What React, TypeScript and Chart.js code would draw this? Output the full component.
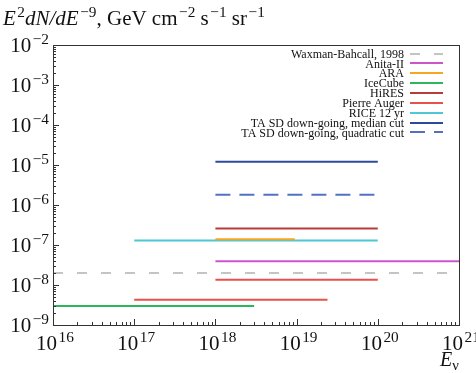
import React, { useEffect, useRef } from "react";
import { Chart, registerables } from "chart.js";

Chart.register(...registerables);

// ---- data ----
const seriesNames = [
  "Waxman-Bahcall, 1998",
  "Anita-II",
  "ARA",
  "IceCube",
  "HiRES",
  "Pierre Auger",
  "RICE 12 yr",
  "TA SD down-going, median cut",
  "TA SD down-going, quadratic cut",
];
const seriesColors = ["#c4c4c4", "#cc55cc", "#f5a623", "#2cb85a", "#b83a3a", "#e8504a", "#4ec8d4", "#2c4a9a", "#5272c0"];
const seriesDash: number[][] = [[10, 14], [], [], [], [], [], [], [], [15, 9]];

const waxmanX = [1e16, 1e21];
const waxmanY = [2e-8, 2e-8];
const anitaX = [1e18, 1e21];
const anitaY = [3.9e-8, 3.9e-8];
const araX = [1e18, 9.5e18];
const araY = [1.4e-7, 1.4e-7];
const icecubeX = [1e16, 3e18];
const icecubeY = [3e-9, 3e-9];
const hiresX = [1e18, 1e20];
const hiresY = [2.6e-7, 2.6e-7];
const augerX = [1e18, 1e20];
const augerY = [1.35e-8, 1.35e-8];
const auger2X = [1e17, 2.4e19];
const auger2Y = [4.3e-9, 4.3e-9];
const riceX = [1e17, 1e20];
const riceY = [1.3e-7, 1.3e-7];
const taMedianX = [1e18, 1e20];
const taMedianY = [1.2e-5, 1.2e-5];
const taQuadX = [1e18, 1e20];
const taQuadY = [1.8e-6, 1.8e-6];

const xTickExps = [16, 17, 18, 19, 20, 21];
const yTickExps = [-9, -8, -7, -6, -5, -4, -3, -2];

const FONT = '"Liberation Serif", "DejaVu Serif", serif';

type Run = { t: string; it?: boolean; sup?: boolean; sub?: boolean };

const SUPR = 0.73;
const SUPGAP = 1.5;

function runsWidth(ctx: CanvasRenderingContext2D, runs: Run[], size: number) {
  let w = 0;
  for (const r of runs) {
    const s = r.sup || r.sub ? size * SUPR : size;
    ctx.font = `${r.it ? "italic " : ""}${s}px ${FONT}`;
    w += ctx.measureText(r.t).width + (r.sup ? SUPGAP : 0);
  }
  return w;
}

function drawRuns(ctx: CanvasRenderingContext2D, x: number, y: number, runs: Run[], size: number) {
  let cx = x;
  ctx.textAlign = "left";
  ctx.textBaseline = "alphabetic";
  for (const r of runs) {
    const s = r.sup || r.sub ? size * SUPR : size;
    ctx.font = `${r.it ? "italic " : ""}${s}px ${FONT}`;
    const dy = r.sup ? -size * 0.38 : r.sub ? size * 0.22 : 0;
    if (r.sup) cx += SUPGAP;
    ctx.fillText(r.t, cx, y + dy);
    cx += ctx.measureText(r.t).width;
  }
  return cx;
}

const M = "\u2212";

const decorPlugin = {
  id: "decor",
  afterDatasetsDraw(chart: any) {
    const ctx: CanvasRenderingContext2D = chart.ctx;
    const { left, right, top, bottom } = chart.chartArea;
    const xs = chart.scales.x;
    const ys = chart.scales.y;
    ctx.save();
    ctx.strokeStyle = "#333";
    ctx.lineWidth = 1;
    ctx.strokeRect(left + 0.5, top + 0.5, right - left, bottom - top);

    // ticks
    ctx.beginPath();
    for (let e = xTickExps[0]; e <= xTickExps[xTickExps.length - 1]; e++) {
      for (let m = 1; m <= 9; m++) {
        const v = m * Math.pow(10, e);
        if (v > Math.pow(10, xTickExps[xTickExps.length - 1])) break;
        const px = Math.round(xs.getPixelForValue(v)) + 0.5;
        const len = m === 1 ? 6 : 3;
        ctx.moveTo(px, bottom);
        ctx.lineTo(px, bottom - len);
      }
    }
    for (let e = yTickExps[0]; e <= yTickExps[yTickExps.length - 1]; e++) {
      for (let m = 1; m <= 9; m++) {
        const v = m * Math.pow(10, e);
        if (v > Math.pow(10, yTickExps[yTickExps.length - 1]) * 1.0001) break;
        const py = Math.round(ys.getPixelForValue(v)) + 0.5;
        const len = m === 1 ? 6 : 3;
        ctx.moveTo(left, py);
        ctx.lineTo(left + len, py);
      }
    }
    ctx.stroke();

    ctx.fillStyle = "#111";
    const LS = 21;
    // x labels
    for (const e of xTickExps) {
      const runs: Run[] = [{ t: "10" }, { t: String(e), sup: true }];
      const w = runsWidth(ctx, runs, LS);
      const px = xs.getPixelForValue(Math.pow(10, e));
      drawRuns(ctx, px - w / 2 + 2, bottom + 25, runs, LS);
    }
    // y labels
    for (const e of yTickExps) {
      const runs: Run[] = [{ t: "10" }, { t: M + String(-e), sup: true }];
      const w = runsWidth(ctx, runs, LS);
      const py = ys.getPixelForValue(Math.pow(10, e));
      drawRuns(ctx, left - 4 - w, py + 7, runs, LS);
    }
    // axis titles
    drawRuns(ctx, 3, 25, [
      { t: "E", it: true }, { t: "2", sup: true }, { t: "dN/dE", it: true }, { t: M + "9", sup: true },
      { t: ", GeV cm" }, { t: M + "2", sup: true }, { t: " s" }, { t: M + "1", sup: true },
      { t: " sr" }, { t: M + "1", sup: true },
    ], 21);
    drawRuns(ctx, 440, 366, [{ t: "E", it: true }, { t: "\u03bd", sub: true }], 20);

    // legend
    const lx0 = 410, lx1 = 443, ltx = 404;
    seriesNames.forEach((name, i) => {
      const y = 53.5 + i * 9.87;
      ctx.fillStyle = "#111";
      ctx.textAlign = "right";
      ctx.textBaseline = "middle";
      ctx.font = `12px ${FONT}`;
      ctx.fillText(name, ltx, y + 1);
      ctx.beginPath();
      ctx.strokeStyle = seriesColors[i];
      ctx.lineWidth = 2;
      ctx.setLineDash(seriesDash[i]);
      ctx.moveTo(lx0, Math.round(y));
      ctx.lineTo(lx1, Math.round(y));
      ctx.stroke();
      ctx.setLineDash([]);
    });
    ctx.restore();
  },
};

function seg(xv: number[], yv: number[]) {
  return xv.map((x, i) => ({ x, y: yv[i] }));
}

export default function App() {
  const ref = useRef<HTMLCanvasElement>(null);
  useEffect(() => {
    document.body.style.margin = "0";
    const segs = [
      { d: seg(waxmanX, waxmanY), i: 0 },
      { d: seg(anitaX, anitaY), i: 1 },
      { d: seg(icecubeX, icecubeY), i: 3 },
      { d: seg(hiresX, hiresY), i: 4 },
      { d: seg(augerX, augerY), i: 5 },
      { d: seg(auger2X, auger2Y), i: 5 },
      { d: seg(araX, araY), i: 2 },
      { d: seg(riceX, riceY), i: 6 },
      { d: seg(taMedianX, taMedianY), i: 7 },
      { d: seg(taQuadX, taQuadY), i: 8 },
    ];
    const chart = new Chart(ref.current!, {
      type: "line",
      data: {
        datasets: segs.map((s) => ({
          label: seriesNames[s.i],
          data: s.d,
          borderColor: seriesColors[s.i],
          borderWidth: 2,
          borderDash: seriesDash[s.i],
          pointRadius: 0,
          fill: false,
          tension: 0,
        })),
      },
      options: {
        responsive: false,
        animation: false,
        layout: { padding: { top: 45, right: 17, left: 0, bottom: 0 } },
        plugins: { legend: { display: false }, tooltip: { enabled: false }, title: { display: false } },
        scales: {
          x: {
            type: "logarithmic",
            min: 1e16,
            max: 1e21,
            ticks: { display: false },
            grid: { display: false },
            border: { display: false },
            afterFit: (s: any) => { s.height = 48; },
          },
          y: {
            type: "logarithmic",
            min: 1e-9,
            max: 1e-2,
            ticks: { display: false },
            grid: { display: false },
            border: { display: false },
            afterFit: (s: any) => { s.width = 53; },
          },
        },
      },
      plugins: [decorPlugin],
    });
    return () => chart.destroy();
  }, []);
  return (
    <div style={{ width: 476, height: 373 }}>
      <canvas ref={ref} width={476} height={373} />
    </div>
  );
}
